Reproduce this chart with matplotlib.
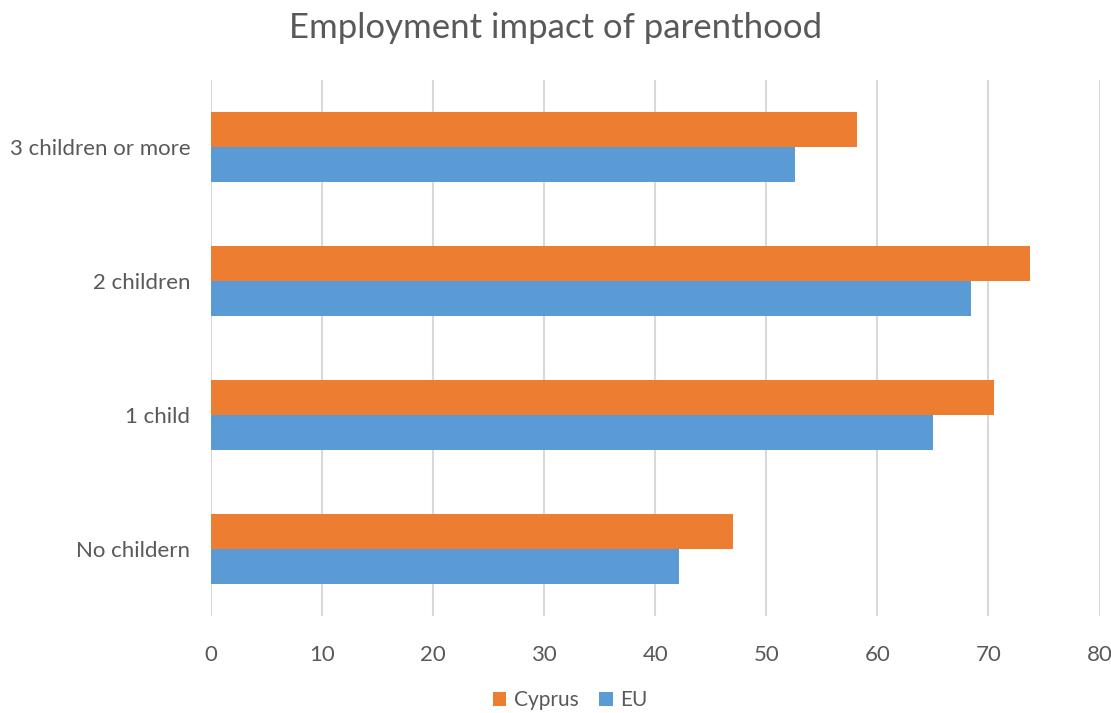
import matplotlib
matplotlib.use("Agg")
import matplotlib.pyplot as plt
import numpy as np

categories = ["No childern", "1 child", "2 children", "3 children or more"]
cyprus = [47.0, 70.5, 73.7, 58.2]
eu = [42.1, 65.0, 68.4, 52.6]
xticks = [0, 10, 20, 30, 40, 50, 60, 70, 80]

plt.rcParams["font.family"] = ["Lato", "DejaVu Sans"]
text_color = "#595959"

fig = plt.figure(figsize=(11.11, 7.13), dpi=100)
W, H = 1111, 713
ax = fig.add_axes([211 / W, 1 - 616 / H, (1099.5 - 211) / W, (616 - 80) / H])

y = np.arange(len(categories))
h = 35 / 134
ax.barh(y + h / 2, cyprus, height=h, color="#ED7D31", label="Cyprus", zorder=3)
ax.barh(y - h / 2, eu, height=h, color="#5B9BD5", label="EU", zorder=3)

ax.set_xlim(0, 80)
ax.set_ylim(-0.5, 3.5)
ax.set_xticks(xticks)
ax.set_xticklabels([str(t) for t in xticks])
ax.set_yticks(y)
ax.set_yticklabels(categories)
ax.grid(axis="x", color="#D9D9D9", linewidth=1.5, zorder=0)
for s in ax.spines.values():
    s.set_visible(False)
ax.tick_params(axis="both", length=0, labelsize=16, colors=text_color)
ax.tick_params(axis="x", pad=21)
ax.tick_params(axis="y", pad=15)

fig.text(0.5, 1 - 28 / H, "Employment impact of parenthood", ha="center", va="center",
         fontsize=25, color=text_color)

handles, labels = ax.get_legend_handles_labels()
fig.legend(handles, labels, loc="center", bbox_to_anchor=(570 / W, 1 - 700 / H), ncol=2,
           frameon=False, fontsize=15, labelcolor=text_color, handlelength=0.65,
           handleheight=0.65, handletextpad=0.35, columnspacing=1.0)

fig.savefig("out.png", dpi=100)
